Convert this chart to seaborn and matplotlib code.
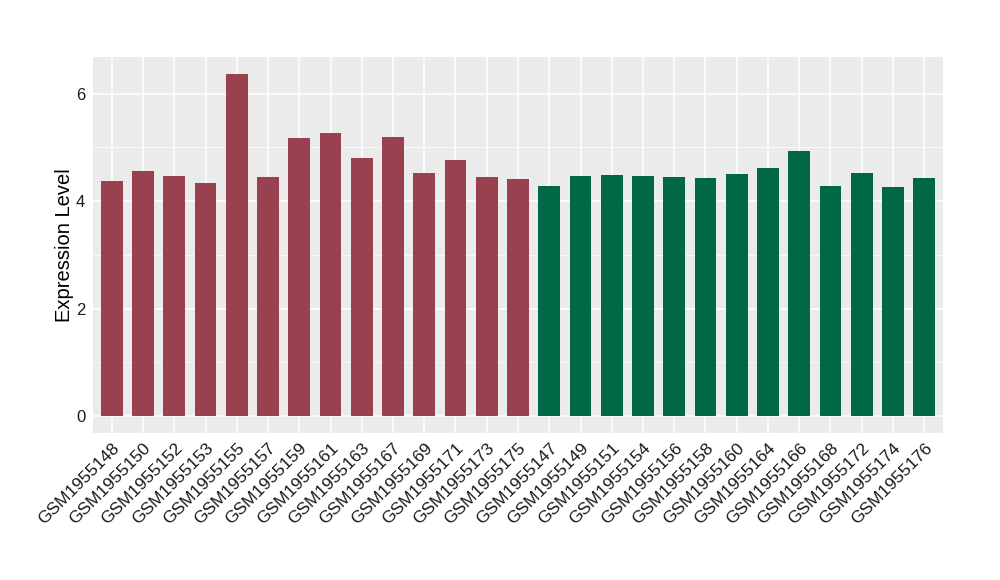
import matplotlib
matplotlib.use("Agg")
import matplotlib.pyplot as plt
import seaborn as sns
import pandas as pd
from matplotlib.ticker import MultipleLocator

samples = ["GSM1955148", "GSM1955150", "GSM1955152", "GSM1955153", "GSM1955155",
           "GSM1955157", "GSM1955159", "GSM1955161", "GSM1955163", "GSM1955167",
           "GSM1955169", "GSM1955171", "GSM1955173", "GSM1955175",
           "GSM1955147", "GSM1955149", "GSM1955151", "GSM1955154", "GSM1955156",
           "GSM1955158", "GSM1955160", "GSM1955164", "GSM1955166", "GSM1955168",
           "GSM1955172", "GSM1955174", "GSM1955176"]
values = [4.37, 4.56, 4.46, 4.33, 6.36, 4.45, 5.17, 5.26, 4.80, 5.19, 4.52, 4.76, 4.45, 4.41,
          4.28, 4.46, 4.48, 4.46, 4.44, 4.42, 4.50, 4.61, 4.94, 4.28, 4.52, 4.26, 4.42]
groups = ["A"] * 14 + ["B"] * 13
palette = {"A": "#9A4150", "B": "#016846"}

df = pd.DataFrame({"sample": samples, "value": values, "group": groups})

sns.set_theme(style="darkgrid")
plt.rcParams['font.family'] = ['Liberation Sans', 'DejaVu Sans']

fig = plt.figure(figsize=(10, 5.8), dpi=100)
ax = fig.add_axes([0.093, 0.2534, 0.85, 0.648])
ax.set_facecolor("#EBEBEB")

sns.barplot(data=df, x="sample", y="value", hue="group", palette=palette,
            order=samples, width=0.7, dodge=False, legend=False, ax=ax,
            saturation=1, edgecolor="none")

ax.set_xlim(-0.6, len(samples) - 0.4)
ax.set_ylim(-0.318, 6.678)
ax.yaxis.set_major_locator(MultipleLocator(2))
ax.yaxis.set_minor_locator(MultipleLocator(1))
ax.grid(True, which="major", color="white", linewidth=1.1)
ax.grid(True, which="minor", axis="y", color="white", linewidth=0.5)
ax.set_axisbelow(True)
for s in ax.spines.values():
    s.set_visible(False)

ax.set_xlabel("")
ax.set_ylabel("Expression Level", fontsize=14.5, color="black", labelpad=1.5)
ax.tick_params(axis="both", which="major", length=3.5, color="#333333", width=0.8,
               labelsize=12, labelcolor="#1a1a1a", pad=2)
ax.tick_params(axis="y", which="minor", length=0)
plt.setp(ax.get_xticklabels(), rotation=45, ha="right", rotation_mode="anchor", fontsize=12.5)

fig.savefig("out.png", dpi=100, facecolor="white")
